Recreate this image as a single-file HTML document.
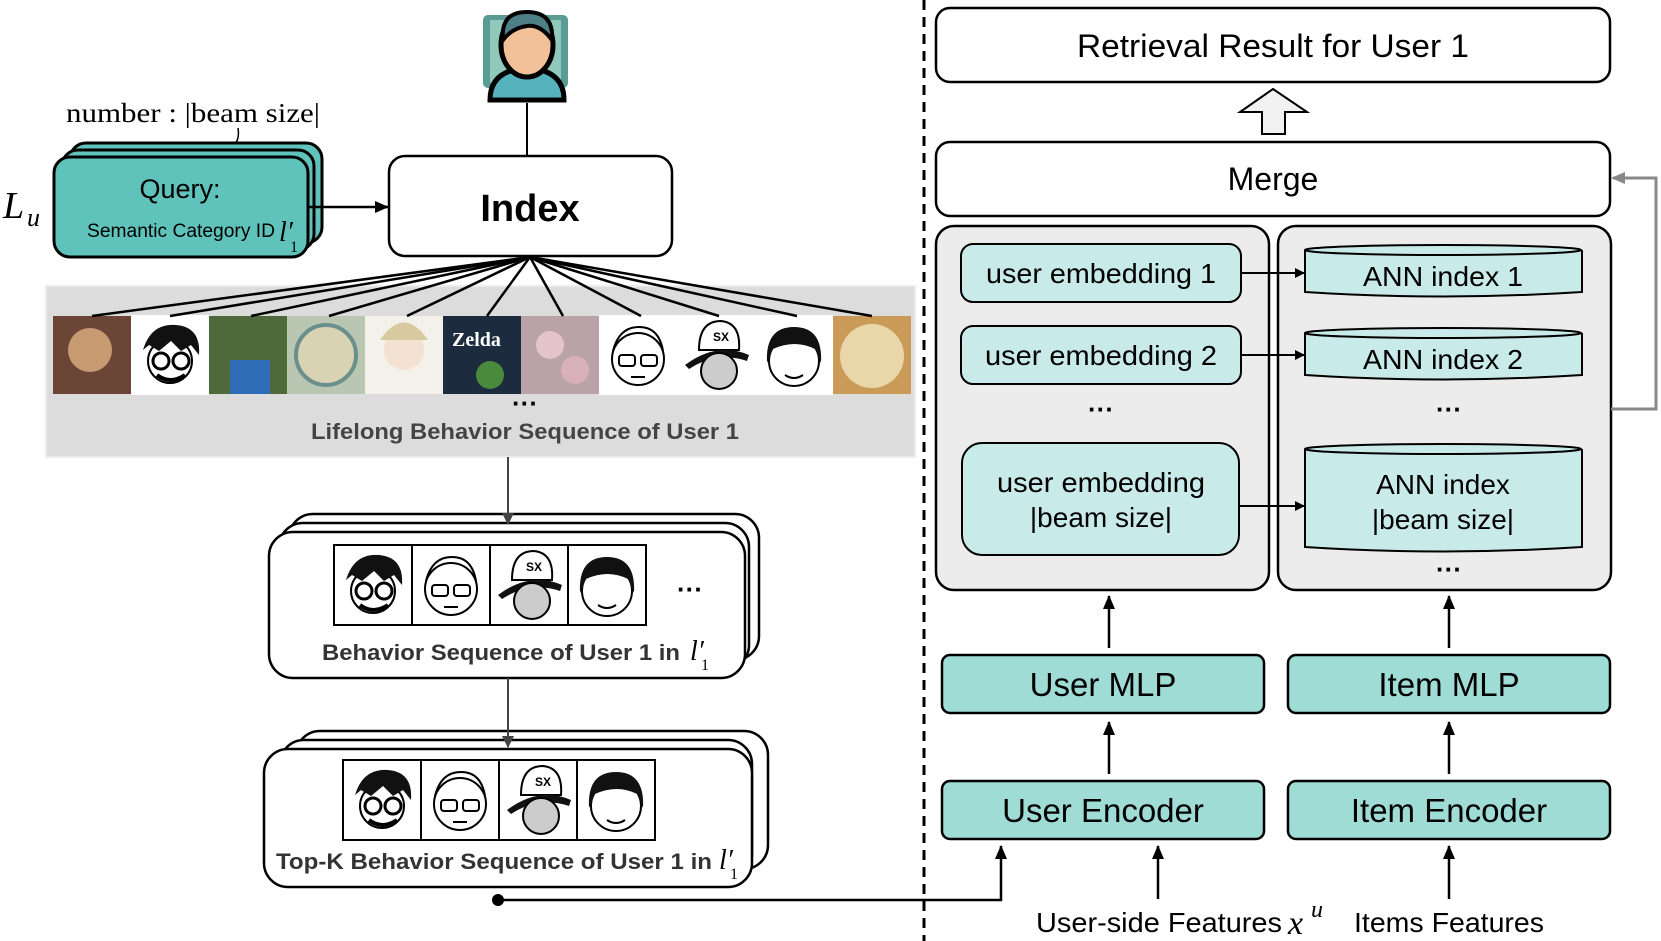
<!DOCTYPE html>
<html><head><meta charset="utf-8"><style>
html,body{margin:0;padding:0;background:#fff;}
svg{display:block;font-family:"Liberation Sans",sans-serif;}
</style></head><body>
<svg width="1661" height="941" viewBox="0 0 1661 941" xmlns="http://www.w3.org/2000/svg">
<defs>
<marker id="ah" markerWidth="10" markerHeight="10" refX="9" refY="5" orient="auto" markerUnits="userSpaceOnUse"><path d="M0,0 L10,5 L0,10 z" fill="#000"/></marker>
<marker id="ahl" markerWidth="14" markerHeight="12" refX="13" refY="6" orient="auto" markerUnits="userSpaceOnUse"><path d="M0,0 L14,6 L0,12 z" fill="#000"/></marker>
<marker id="ahd" markerWidth="12" markerHeight="12" refX="11" refY="6" orient="auto" markerUnits="userSpaceOnUse"><path d="M0,0 L12,6 L0,12 z" fill="#444"/></marker>
<g id="face1"><rect width="78" height="80" fill="#fff"/><circle cx="39" cy="46" r="22" fill="#fff" stroke="#000" stroke-width="2"/><path d="M12,35 Q20,8 45,10 Q70,12 68,40 L60,30 L50,36 L40,26 L28,36 L18,30 z" fill="#111"/><circle cx="30" cy="46" r="8" fill="#fff" stroke="#000" stroke-width="3"/><circle cx="50" cy="46" r="8" fill="#fff" stroke="#000" stroke-width="3"/><path d="M26,60 Q39,70 54,60" stroke="#000" stroke-width="4" fill="none"/></g>
<g id="face2"><rect width="78" height="80" fill="#fff"/><circle cx="39" cy="44" r="26" fill="#fff" stroke="#000" stroke-width="2"/><path d="M14,36 Q20,12 40,12 Q60,12 64,36" stroke="#000" stroke-width="2" fill="none"/><rect x="20" y="40" width="16" height="11" rx="3" fill="none" stroke="#000" stroke-width="2"/><rect x="42" y="40" width="16" height="11" rx="3" fill="none" stroke="#000" stroke-width="2"/><path d="M32,62 L46,62" stroke="#000" stroke-width="2"/></g>
<g id="face3"><rect width="78" height="80" fill="#fff"/><path d="M22,35 Q22,6 44,6 Q64,8 62,35 z" fill="#fff" stroke="#000" stroke-width="2"/><path d="M8,50 Q40,26 72,40 L70,46 Q40,36 12,54 z" fill="#111"/><circle cx="42" cy="56" r="18" fill="#ccc" stroke="#000" stroke-width="2"/><text x="36" y="26" font-size="12" font-weight="bold">SX</text></g>
<g id="face4"><rect width="78" height="80" fill="#fff"/><circle cx="39" cy="46" r="25" fill="#fff" stroke="#000" stroke-width="2"/><path d="M12,48 Q10,12 39,12 Q68,12 66,48 L60,34 Q40,24 18,34 z" fill="#111"/><path d="M30,60 Q39,66 48,60" stroke="#000" stroke-width="2" fill="none"/></g>
</defs>

<line x1="924" y1="0" x2="924" y2="941" stroke="#000" stroke-width="3" stroke-dasharray="10,7"/>

<!-- person icon -->
<rect x="483" y="15" width="85" height="73" rx="5" fill="#5a9c94"/>
<rect x="490" y="20" width="71" height="63" fill="#8fc9bc"/>
<path d="M490,100 Q490,70 527,68 Q564,70 564,100 z" fill="#55b3be" stroke="#000" stroke-width="5"/>
<ellipse cx="527" cy="45" rx="26" ry="32" fill="#f2c199" stroke="#000" stroke-width="5"/>
<path d="M503,40 Q500,12 527,12 Q554,12 552,40 Q540,24 527,26 Q512,28 503,40z" fill="#4e7e86" stroke="#000" stroke-width="4"/>
<line x1="527" y1="103" x2="527" y2="156" stroke="#000" stroke-width="2"/>

<!-- query stack -->
<text x="66" y="122" font-family="Liberation Serif,serif" font-size="27" textLength="254" lengthAdjust="spacingAndGlyphs">number : |beam size|</text>
<path d="M238,128 Q240,140 233,146" stroke="#000" stroke-width="1.5" fill="none"/>
<rect x="70" y="143" width="252" height="100" rx="16" fill="#5fc3bb" stroke="#000" stroke-width="3"/>
<rect x="62" y="150" width="252" height="100" rx="16" fill="#5fc3bb" stroke="#000" stroke-width="3"/>
<rect x="54" y="157" width="254" height="100" rx="16" fill="#5fc3bb" stroke="#000" stroke-width="3"/>
<text x="180" y="198" text-anchor="middle" font-size="27">Query:</text>
<text x="87" y="237" font-size="19" textLength="188" lengthAdjust="spacingAndGlyphs">Semantic Category ID</text>
<text x="279" y="241" font-family="Liberation Serif,serif" font-style="italic" font-size="28">l′</text><text x="290" y="252" font-family="Liberation Serif,serif" font-size="16">1</text>
<text x="3" y="218" font-family="Liberation Serif,serif" font-style="italic" font-size="38">L</text><text x="27" y="226" font-family="Liberation Serif,serif" font-style="italic" font-size="26">u</text>
<line x1="308" y1="207" x2="388" y2="207" stroke="#000" stroke-width="2.5" marker-end="url(#ahl)"/>

<!-- index -->
<rect x="389" y="156" width="283" height="100" rx="16" fill="#fff" stroke="#000" stroke-width="2.5"/>
<text x="530" y="221" text-anchor="middle" font-size="38" font-weight="bold">Index</text>

<!-- lifelong band -->
<rect x="46" y="286" width="869" height="171" fill="#dcdcdc" stroke="#ececec" stroke-width="2"/>
<g>
<rect x="53" y="316" width="78" height="78" fill="#6b4636"/><circle cx="90" cy="350" r="22" fill="#c89a72"/>
<rect x="131" y="316" width="78" height="78" fill="#fff"/><use href="#face1" x="131" y="315"/>
<rect x="209" y="316" width="78" height="78" fill="#4f6a3a"/><rect x="230" y="360" width="40" height="34" fill="#2f6cb8"/>
<rect x="287" y="316" width="78" height="78" fill="#b9c6b2"/><circle cx="326" cy="355" r="30" fill="#d9d2b3" stroke="#6a8f8c" stroke-width="4"/>
<rect x="365" y="316" width="78" height="78" fill="#f4f1ea"/><circle cx="404" cy="350" r="20" fill="#f3e2d2"/><path d="M380,340 Q404,305 428,340 z" fill="#d8caa0"/>
<rect x="443" y="316" width="78" height="78" fill="#1d2b3e"/><text x="452" y="346" fill="#fff" font-family="Liberation Serif,serif" font-weight="bold" font-size="20">Zelda</text><circle cx="490" cy="375" r="14" fill="#4a8a3c"/>
<rect x="521" y="316" width="78" height="78" fill="#b9a2a8"/><circle cx="550" cy="345" r="14" fill="#e3c4cc"/><circle cx="575" cy="370" r="14" fill="#d8b0bb"/>
<use href="#face2" x="599" y="315"/>
<use href="#face3" x="677" y="315"/>
<use href="#face4" x="755" y="315"/>
<rect x="833" y="316" width="78" height="78" fill="#c99a58"/><circle cx="872" cy="356" r="32" fill="#e9d7a9"/>
</g>
<g stroke="#000" stroke-width="2.5">
<line x1="530" y1="257" x2="92" y2="316"/><line x1="530" y1="257" x2="170" y2="316"/><line x1="530" y1="257" x2="251" y2="316"/><line x1="530" y1="257" x2="329" y2="316"/><line x1="530" y1="257" x2="407" y2="316"/><line x1="530" y1="257" x2="487" y2="316"/><line x1="530" y1="257" x2="563" y2="316"/><line x1="530" y1="257" x2="641" y2="316"/><line x1="530" y1="257" x2="719" y2="316"/><line x1="530" y1="257" x2="797" y2="316"/><line x1="530" y1="257" x2="872" y2="316"/>
</g>
<text x="525" y="412" text-anchor="middle" font-size="26" font-weight="bold">···</text>
<text x="525" y="439" text-anchor="middle" font-size="22" font-weight="bold" fill="#444" textLength="428" lengthAdjust="spacingAndGlyphs">Lifelong Behavior Sequence of User 1</text>

<!-- behavior seq -->
<rect x="289" y="514" width="470" height="146" rx="24" fill="#fff" stroke="#000" stroke-width="2.5"/>
<rect x="279" y="523" width="470" height="146" rx="24" fill="#fff" stroke="#000" stroke-width="2.5"/>
<rect x="269" y="532" width="476" height="146" rx="24" fill="#fff" stroke="#000" stroke-width="2.5"/>
<use href="#face1" x="334" y="545"/><use href="#face2" x="412" y="545"/><use href="#face3" x="490" y="545"/><use href="#face4" x="568" y="545"/>
<g fill="none" stroke="#000" stroke-width="2"><rect x="334" y="545" width="312" height="80"/><line x1="412" y1="545" x2="412" y2="625"/><line x1="490" y1="545" x2="490" y2="625"/><line x1="568" y1="545" x2="568" y2="625"/></g>
<text x="690" y="598" text-anchor="middle" font-size="26" font-weight="bold">···</text>
<text x="322" y="660" font-size="22" font-weight="bold" fill="#333" textLength="358" lengthAdjust="spacingAndGlyphs">Behavior Sequence of User 1 in</text>
<text x="690" y="660" font-family="Liberation Serif,serif" font-style="italic" font-size="28">l′</text><text x="701" y="670" font-family="Liberation Serif,serif" font-size="16">1</text>

<!-- top-k -->
<rect x="296" y="731" width="472" height="138" rx="24" fill="#fff" stroke="#000" stroke-width="2.5"/>
<rect x="280" y="740" width="472" height="138" rx="24" fill="#fff" stroke="#000" stroke-width="2.5"/>
<rect x="264" y="749" width="488" height="138" rx="24" fill="#fff" stroke="#000" stroke-width="2.5"/>
<use href="#face1" x="343" y="760"/><use href="#face2" x="421" y="760"/><use href="#face3" x="499" y="760"/><use href="#face4" x="577" y="760"/>
<g fill="none" stroke="#000" stroke-width="2"><rect x="343" y="760" width="312" height="80"/><line x1="421" y1="760" x2="421" y2="840"/><line x1="499" y1="760" x2="499" y2="840"/><line x1="577" y1="760" x2="577" y2="840"/></g>
<text x="276" y="869" font-size="22" font-weight="bold" fill="#333" textLength="436" lengthAdjust="spacingAndGlyphs">Top-K Behavior Sequence of User 1 in</text>
<text x="719" y="869" font-family="Liberation Serif,serif" font-style="italic" font-size="28">l′</text><text x="730" y="879" font-family="Liberation Serif,serif" font-size="16">1</text>

<!-- left arrows (drawn on top) -->
<line x1="508" y1="457" x2="508" y2="524" stroke="#444" stroke-width="2" marker-end="url(#ahd)"/>
<line x1="508" y1="678" x2="508" y2="747" stroke="#444" stroke-width="2" marker-end="url(#ahd)"/>

<circle cx="498" cy="900" r="6" fill="#000"/>
<polyline points="498,900 1001,900 1001,846" fill="none" stroke="#000" stroke-width="2.5" marker-end="url(#ahl)"/>

<!-- right side -->
<rect x="936" y="8" width="674" height="74" rx="14" fill="#fff" stroke="#000" stroke-width="2.5"/>
<text x="1273" y="57" text-anchor="middle" font-size="32" textLength="392" lengthAdjust="spacingAndGlyphs">Retrieval Result for User 1</text>
<path d="M1262,134 L1262,112 L1240,112 L1273,89 L1307,112 L1285,112 L1285,134 z" fill="#f2f2f2" stroke="#000" stroke-width="2"/>
<rect x="936" y="142" width="674" height="74" rx="14" fill="#fff" stroke="#000" stroke-width="2.5"/>
<text x="1273" y="190" text-anchor="middle" font-size="32">Merge</text>

<rect x="936" y="226" width="333" height="364" rx="18" fill="#ececec" stroke="#000" stroke-width="2.5"/>
<rect x="1278" y="226" width="333" height="364" rx="18" fill="#ececec" stroke="#000" stroke-width="2.5"/>

<rect x="961" y="244" width="280" height="58" rx="12" fill="#c8eae8" stroke="#000" stroke-width="2"/>
<text x="1101" y="283" text-anchor="middle" font-size="28" textLength="230" lengthAdjust="spacingAndGlyphs">user embedding 1</text>
<rect x="961" y="326" width="280" height="58" rx="12" fill="#c8eae8" stroke="#000" stroke-width="2"/>
<text x="1101" y="365" text-anchor="middle" font-size="28" textLength="232" lengthAdjust="spacingAndGlyphs">user embedding 2</text>
<text x="1101" y="418" text-anchor="middle" font-size="26" font-weight="bold">···</text>
<rect x="962" y="443" width="277" height="112" rx="20" fill="#c8eae8" stroke="#000" stroke-width="2"/>
<text x="1101" y="492" text-anchor="middle" font-size="28" textLength="208" lengthAdjust="spacingAndGlyphs">user embedding</text>
<text x="1101" y="527" text-anchor="middle" font-size="28">|beam size|</text>

<g fill="#c8eae8" stroke="#000" stroke-width="2">
<path d="M1305,250 L1305,292 Q1443,301 1582,292 L1582,250"/><ellipse cx="1443" cy="250" rx="138" ry="5"/>
<path d="M1305,333 L1305,375 Q1443,384 1582,375 L1582,333"/><ellipse cx="1443" cy="333" rx="138" ry="5"/>
<path d="M1305,449 L1305,547 Q1443,556 1582,547 L1582,449"/><ellipse cx="1443" cy="449" rx="138" ry="5"/>
</g>
<text x="1443" y="286" text-anchor="middle" font-size="28" textLength="160" lengthAdjust="spacingAndGlyphs">ANN index 1</text>
<text x="1443" y="369" text-anchor="middle" font-size="28" textLength="160" lengthAdjust="spacingAndGlyphs">ANN index 2</text>
<text x="1449" y="418" text-anchor="middle" font-size="26" font-weight="bold">···</text>
<text x="1443" y="494" text-anchor="middle" font-size="28">ANN index</text>
<text x="1443" y="529" text-anchor="middle" font-size="28">|beam size|</text>
<text x="1449" y="578" text-anchor="middle" font-size="26" font-weight="bold">···</text>

<g stroke="#000" stroke-width="2">
<line x1="1241" y1="273" x2="1304" y2="273" marker-end="url(#ah)"/>
<line x1="1241" y1="355" x2="1304" y2="355" marker-end="url(#ah)"/>
<line x1="1239" y1="506" x2="1304" y2="506" marker-end="url(#ah)"/>
</g>
<polyline points="1611,409 1656,409 1656,178 1613,178" fill="none" stroke="#888" stroke-width="3"/>
<path d="M1611,178 L1625,172 L1625,184 z" fill="#888"/>

<g stroke="#000" stroke-width="2.5">
<line x1="1109" y1="648" x2="1109" y2="596" marker-end="url(#ahl)"/>
<line x1="1449" y1="648" x2="1449" y2="596" marker-end="url(#ahl)"/>
<line x1="1109" y1="774" x2="1109" y2="722" marker-end="url(#ahl)"/>
<line x1="1449" y1="774" x2="1449" y2="722" marker-end="url(#ahl)"/>
<line x1="1158" y1="899" x2="1158" y2="846" marker-end="url(#ahl)"/>
<line x1="1449" y1="899" x2="1449" y2="846" marker-end="url(#ahl)"/>
</g>

<rect x="942" y="655" width="322" height="58" rx="8" fill="#9fdcd6" stroke="#000" stroke-width="2.5"/>
<text x="1103" y="696" text-anchor="middle" font-size="33">User MLP</text>
<rect x="1288" y="655" width="322" height="58" rx="8" fill="#9fdcd6" stroke="#000" stroke-width="2.5"/>
<text x="1449" y="696" text-anchor="middle" font-size="33">Item MLP</text>
<rect x="942" y="781" width="322" height="58" rx="8" fill="#9fdcd6" stroke="#000" stroke-width="2.5"/>
<text x="1103" y="822" text-anchor="middle" font-size="33">User Encoder</text>
<rect x="1288" y="781" width="322" height="58" rx="8" fill="#9fdcd6" stroke="#000" stroke-width="2.5"/>
<text x="1449" y="822" text-anchor="middle" font-size="33">Item Encoder</text>

<text x="1036" y="932" font-size="28" textLength="246" lengthAdjust="spacingAndGlyphs">User-side Features</text>
<text x="1288" y="934" font-family="Liberation Serif,serif" font-style="italic" font-size="34">x</text>
<text x="1311" y="917" font-family="Liberation Serif,serif" font-style="italic" font-size="24">u</text>
<text x="1449" y="932" text-anchor="middle" font-size="28" textLength="190" lengthAdjust="spacingAndGlyphs">Items Features</text>
</svg>
</body></html>
